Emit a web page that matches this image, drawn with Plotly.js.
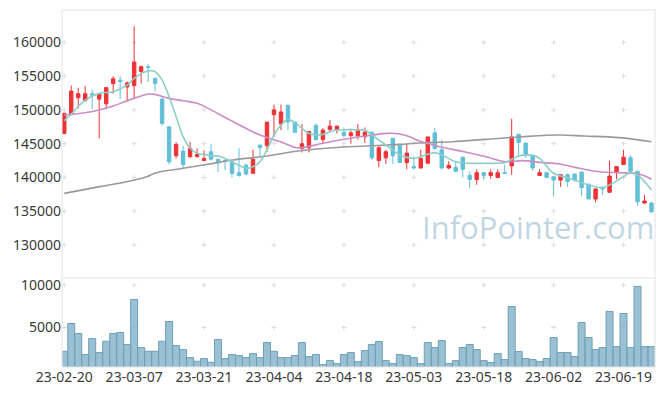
<!DOCTYPE html>
<html>
<head>
<meta charset="utf-8">
<script src="https://cdn.plot.ly/plotly-3.0.1.min.js"></script>
<style>html,body{margin:0;padding:0;background:#fff;}#chart{width:665px;height:396px;}</style>
</head>
<body>
<div id="chart"></div>
<script>
const dates = ["23-02-20","23-02-21","23-02-22","23-02-23","23-02-24","23-02-27","23-02-28","23-03-02","23-03-03","23-03-06",
"23-03-07","23-03-08","23-03-09","23-03-10","23-03-13","23-03-14","23-03-15","23-03-16","23-03-17","23-03-20",
"23-03-21","23-03-22","23-03-23","23-03-24","23-03-27","23-03-28","23-03-29","23-03-30","23-03-31","23-04-03",
"23-04-04","23-04-05","23-04-06","23-04-07","23-04-10","23-04-11","23-04-12","23-04-13","23-04-14","23-04-17",
"23-04-18","23-04-19","23-04-20","23-04-21","23-04-24","23-04-25","23-04-26","23-04-27","23-04-28","23-05-02",
"23-05-03","23-05-04","23-05-08","23-05-09","23-05-10","23-05-11","23-05-12","23-05-15","23-05-16","23-05-17",
"23-05-18","23-05-19","23-05-22","23-05-23","23-05-24","23-05-25","23-05-26","23-05-30","23-05-31","23-06-01",
"23-06-02","23-06-05","23-06-07","23-06-08","23-06-09","23-06-12","23-06-13","23-06-14","23-06-15","23-06-16",
"23-06-19","23-06-20","23-06-21","23-06-22","23-06-23"];

const open = [146500,149400,151800,151400,152400,151600,150900,153900,154400,153400,
153600,155700,156400,154700,151600,147500,143200,143900,143100,143100,
142500,143800,142700,142500,142300,140700,141800,140600,144800,144700,
149300,147900,150700,148200,144300,144400,147700,145600,147100,147100,
146700,146200,146200,146000,146700,142500,142900,145800,144900,142200,
141600,141400,142100,146600,144100,141400,141500,143000,140300,139700,
140700,140300,140000,140700,141700,146400,145100,143300,140300,140700,
140100,139600,140400,140500,140800,139000,136800,138400,137800,140700,
141900,142900,140900,136200,136200];
const high = [149500,153600,153300,153500,153000,152400,153300,155000,155000,154200,
162400,156600,156800,154700,151900,147500,145200,144700,145300,144300,
144000,145000,142700,142700,142300,144300,142100,144100,144800,148200,
150800,150800,150700,148200,147900,146800,148000,147300,148500,147600,
147400,147000,147900,147400,146700,144700,144100,145800,144900,145000,
143100,144100,146000,147300,145600,142400,142400,143000,140900,141200,
140700,141200,141200,141900,148700,146400,145100,143300,141200,140700,
140100,140400,140600,140500,140800,139000,138300,138700,142500,141600,
144100,143300,140900,137400,136400];
const low = [146400,149200,150200,151200,150100,145800,150100,152400,151600,151200,
151600,153900,154100,152700,147700,141900,142800,141300,142800,142900,
142400,142500,140800,141100,140000,140100,140300,140600,143100,143800,
146000,147000,147000,146700,143700,143700,145500,145000,146700,146500,
145900,145000,145600,145100,142600,141500,142000,142000,142200,141200,
141200,141300,142100,144100,141200,141200,140900,140000,138400,138900,
139700,139800,139900,140500,140400,143200,142900,141000,140200,139900,
137200,138600,138600,139400,137200,136800,136300,137400,137800,139700,
141900,140900,135800,136100,134700];
const close = [149500,152800,152400,152400,152200,152300,153300,154600,154200,154000,
157100,156400,156300,153900,148000,142300,144900,141900,144300,143400,
142800,142700,142200,142400,140600,140300,140500,142700,144400,148200,
150000,149700,148200,146700,145000,146800,145600,147000,147600,147600,
146200,146600,147000,146700,142900,144400,143800,143200,142200,143600,
141400,142800,146000,144300,141400,141800,140900,141200,139700,140700,
140300,140700,140700,140600,146000,145200,143300,141400,140700,140000,
139600,140400,139400,139600,138500,136800,138300,138300,140200,141600,
143000,140900,136400,136500,134900];
const volume = [2205,5472,4291,1811,3701,2047,3386,4291,4409,2992,
8307,2638,2205,2205,3386,5709,2874,2401,1457,1024,
1339,906,3583,1339,1811,1693,1457,1929,1457,3228,
2205,1457,1457,1693,3228,1575,1811,630,1102,748,
1811,2047,984,2283,2992,3346,1102,748,1811,1693,
1457,748,3228,2638,3465,748,1102,2638,2992,2402,
1102,866,1929,1220,7480,2165,1339,1220,984,1339,
3819,2047,2047,1575,5591,3819,2402,2638,6890,2756,
6654,2638,9843,2756,2756];

// moving averages (bar index, price)
const ma5X = [0,1,3,5,7,9,10,12,13,14,15,16,17,18,19,20,21,22,24,26,27,28,29,30,31,32,33,34,35,36,37,38,39,40,41,42,43,44,45,46,47,48,49,50,51,53,54,56,58,60,62,63,64,65,67,68,70,72,73,75,77,78,80,81,82,83,84];
const ma5 = [148400,149390,151460,152450,152700,153680,154670,155760,155660,154420,151960,149000,146030,144310,143570,143420,143170,143170,142330,141350,141590,142330,144060,146280,147760,148600,148110,147270,146530,146280,146380,146770,147020,147020,147120,147020,147020,146280,145540,144800,144060,143320,142970,142830,143070,143670,143320,142330,142090,142090,142090,142180,142680,143170,143270,142830,140610,139960,139620,138880,138480,138880,140110,140700,140360,139370,138140];
const ma20X = [0,3,5,7,9,11,12,13,15,17,19,21,23.7,28,31.3,33.2,34.6,36.5,39.4,42.2,44.1,46.1,48,49.4,50.8,53.7,57.2,60.3,63,65.5,68,70.8,73.7,76.5,79.4,81.3,82.7,84];
const ma20 = [149240,149590,149980,150570,151360,152050,152350,152300,151710,151360,150970,150000,148500,146280,145150,144400,144500,144950,145540,146030,146280,146530,146430,146030,145390,144550,143810,143070,142330,142480,142230,141990,141350,140850,140700,140610,140360,139720];
const ma60X = [0,5.1,8.9,11.8,13.2,17,22.2,24.1,29,33.7,38.4,43.2,48,50.8,55.6,60.3,65.5,70.8,74.4,79.4,84];
const ma60 = [137640,138630,139370,140110,140700,141350,142230,142580,143170,143960,144400,144650,144900,145100,145290,145640,146030,146280,146130,145890,145290];

const xTicks = [0,10,20,30,40,50,60,70,80];
const priceTicks = [130000,135000,140000,145000,150000,155000,160000];
const volTicks = [5000,10000];

const idx = dates.map((d,i)=>i);

// small "+" grid marks drawn below the data, at tick intersections
function crossShapes(ys, yref){
  const out=[];
  ys.forEach(y=>xTicks.forEach(x=>{
    const base={type:'line', layer:'below', xref:'x', yref:yref, xsizemode:'pixel', ysizemode:'pixel',
      xanchor:x, yanchor:y, line:{color:'#dcdcdc', width:1}};
    out.push(Object.assign({}, base, {x0:-2.5, x1:2.5, y0:0, y1:0}));
    out.push(Object.assign({}, base, {x0:0, x1:0, y0:-2.5, y1:2.5}));
  }));
  return out;
}

const RED='#ee3236', CYAN='#62bfd8';
const traces = [
  {type:'bar', x:idx, y:volume, yaxis:'y2', width:1,
   marker:{color:'rgba(125,175,198,0.78)', line:{color:'#6f9fb6', width:1}}, hoverinfo:'skip', showlegend:false},
  {type:'scatter', mode:'lines', x:ma60X, y:ma60, yaxis:'y', line:{color:'#9a9a9a', width:1.6, shape:'spline'}, hoverinfo:'skip', showlegend:false},
  {type:'scatter', mode:'lines', x:ma20X, y:ma20, yaxis:'y', line:{color:'#cc8cc6', width:1.6, shape:'spline'}, hoverinfo:'skip', showlegend:false},
  {type:'candlestick', x:idx, open:open, high:high, low:low, close:close, yaxis:'y',
   increasing:{line:{color:RED, width:1}, fillcolor:RED},
   decreasing:{line:{color:CYAN, width:1}, fillcolor:CYAN},
   hoverinfo:'skip', showlegend:false},
  {type:'scatter', mode:'lines', x:ma5X, y:ma5, yaxis:'y', line:{color:'#8ccfc5', width:1.6, shape:'spline'}, hoverinfo:'skip', showlegend:false}
];

const split = 89/357;
const tickFont = {family:'"Noto Sans", "Open Sans", sans-serif', size:14, color:'#3a3a3a'};
const layout = {
  width:665, height:396,
  margin:{l:62, r:10, t:10, b:29},
  paper_bgcolor:'#fff', plot_bgcolor:'#fff',
  showlegend:false,
  xaxis:{range:[-0.32,84.5], tickvals:xTicks, ticktext:xTicks.map(i=>dates[i]),
    showgrid:false, zeroline:false, showline:false, ticks:'', tickfont:tickFont,
    rangeslider:{visible:false}, anchor:'y2', fixedrange:true},
  yaxis:{domain:[split,1], range:[125100,164800], tickvals:priceTicks, showgrid:false, zeroline:false,
    showline:false, ticks:'', tickfont:tickFont, tickformat:'d'},
  yaxis2:{domain:[0,split], range:[350,10830], tickvals:volTicks, showgrid:false, zeroline:false,
    showline:false, ticks:'', tickfont:tickFont, tickformat:'d'},
  shapes:[
    {type:'rect', xref:'paper', yref:'paper', x0:0, x1:1, y0:0, y1:1, line:{color:'#e4e4e4', width:1}},
    {type:'line', xref:'paper', yref:'paper', x0:0, x1:1, y0:split, y1:split, line:{color:'#e4e4e4', width:1}}
  ].concat(crossShapes(priceTicks,'y'), crossShapes(volTicks,'y2')),
  annotations:[
    {text:'InfoPointer.com', xref:'paper', yref:'paper', x:0.802, y:0.392, showarrow:false,
     xanchor:'center', yanchor:'middle',
     font:{family:'"Open Sans", sans-serif', size:31, color:'rgba(160,192,212,0.66)'}}
  ]
};
Plotly.newPlot('chart', traces, layout, {displayModeBar:false, staticPlot:true});
</script>
</body>
</html>
